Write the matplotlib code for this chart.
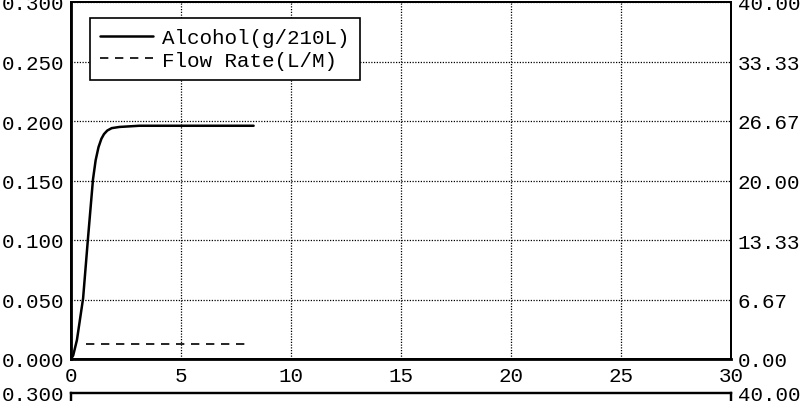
import matplotlib
matplotlib.use("Agg")
import matplotlib.pyplot as plt

# ---- data ----
time_s = [0.0, 0.1, 0.27, 0.55, 0.77, 1.0, 1.12, 1.25, 1.38, 1.5, 1.65, 1.85, 2.2, 3.1, 5.0, 8.3]
alcohol = [0.0, 0.003, 0.016, 0.051, 0.101, 0.151, 0.167, 0.178, 0.185, 0.189, 0.192, 0.194, 0.195, 0.196, 0.196, 0.196]
flow_time = [0.7, 8.1]
flow_rate = [1.67, 1.67]

x_ticks = [0, 5, 10, 15, 20, 25, 30]
left_ticks = [0.0, 0.05, 0.10, 0.15, 0.20, 0.25, 0.30]
left_labels = ["0.000", "0.050", "0.100", "0.150", "0.200", "0.250", "0.300"]
right_ticks = [0.0, 6.67, 13.33, 20.0, 26.67, 33.33, 40.0]
right_labels = ["0.00", "6.67", "13.33", "20.00", "26.67", "33.33", "40.00"]
series_names = ["Alcohol(g/210L)", "Flow Rate(L/M)"]

FONT = "Liberation Mono"
FS = 15

W, H = 812, 402
fig = plt.figure(figsize=(W / 100, H / 100), dpi=100)

L, R, T, B = 71, 731, 3, 360
ax = fig.add_axes([L / W, 1 - B / H, (R - L) / W, (B - T) / H])
ax2 = ax.twinx()

ax.set_xlim(0, 30)
ax.set_ylim(0, 0.3)
ax2.set_ylim(0, 40)

ax.set_xticks(x_ticks)
ax.set_xticklabels([str(v) for v in x_ticks], fontfamily=FONT, fontsize=FS)
ax.set_yticks(left_ticks)
ax.set_yticklabels(left_labels, fontfamily=FONT, fontsize=FS)
ax2.set_yticks(right_ticks)
ax2.set_yticklabels(right_labels, fontfamily=FONT, fontsize=FS)

ax.tick_params(axis="both", length=0, pad=5)
ax.tick_params(axis="x", pad=5)
ax2.tick_params(axis="y", length=0, pad=5)

ax.grid(True, color="black", linestyle=(0, (1, 1.2)), linewidth=0.9)
for s in ax.spines.values():
    s.set_linewidth(1.4)
for s in ax2.spines.values():
    s.set_linewidth(1.4)
ax.spines["left"].set_linewidth(2)
ax.spines["bottom"].set_linewidth(2)

l1, = ax.plot(time_s, alcohol, color="black", linewidth=1.8,
              solid_joinstyle="round", solid_capstyle="round")
l2, = ax2.plot(flow_time, flow_rate, color="black", linewidth=1.2, linestyle=(0, (5, 4)))

leg = ax2.legend([l1, l2], series_names, loc="upper left",
                 bbox_to_anchor=((90 - L) / (R - L), (B - 19) / (B - T)),
                 borderaxespad=0, fancybox=False, framealpha=1, edgecolor="black",
                 prop={"family": FONT, "size": FS}, handlelength=2.5,
                 handletextpad=0.45, borderpad=0.5, labelspacing=0.15)
leg.get_frame().set_linewidth(1.2)

# second (cut-off) chart below
axb = fig.add_axes([L / W, -0.5, (R - L) / W, (0.5 + 1 - 394 / H)])
axb.set_xlim(0, 30)
axb.set_ylim(0, 0.3)
axb.set_xticks([])
axb.set_yticks([0.3])
axb.set_yticklabels(["0.300"], fontfamily=FONT, fontsize=FS)
axb.tick_params(axis="y", length=0, pad=5)
axb2 = axb.twinx()
axb2.set_ylim(0, 40)
axb2.set_yticks([40])
axb2.set_yticklabels(["40.00"], fontfamily=FONT, fontsize=FS)
axb2.tick_params(axis="y", length=0, pad=5)
for s in list(axb.spines.values()) + list(axb2.spines.values()):
    s.set_linewidth(1.6)

fig.savefig("out.png", dpi=100)
